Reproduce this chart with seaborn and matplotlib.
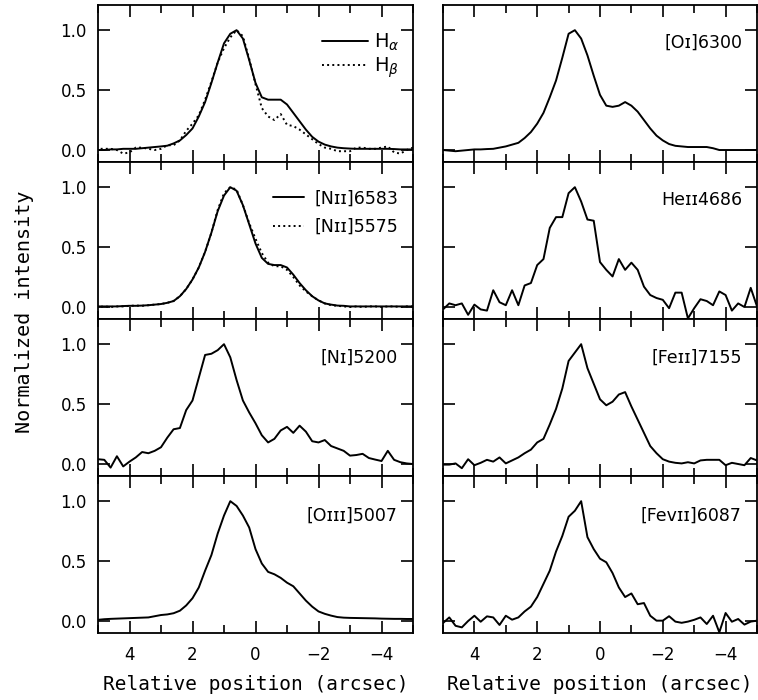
import numpy as np
import matplotlib.pyplot as plt
import seaborn as sns
from matplotlib.ticker import MultipleLocator, FixedLocator, FormatStrFormatter

# slit positions (arcsec), 0.2" sampling
pos = np.round(np.linspace(5, -5, 51), 1)

h_alpha = [0.00, 0.00, 0.005, 0.005, 0.01, 0.01, 0.01, 0.015, 0.02, 0.025, 0.03,
           0.036, 0.055, 0.08, 0.125, 0.18, 0.28, 0.40, 0.56, 0.73, 0.89,
           0.97, 1.00, 0.93, 0.75, 0.56, 0.44, 0.42, 0.42, 0.42, 0.38,
           0.31, 0.24, 0.17, 0.11, 0.07, 0.045, 0.03, 0.02, 0.015, 0.012,
           0.01, 0.01, 0.01, 0.01, 0.01, 0.01, 0.008, 0.005, 0.005, 0.005]
h_beta = [0.01, 0.01, 0.01, 0.00, -0.03, -0.02, 0.02, 0.02, 0.01, 0.00, 0.01,
          0.04, 0.04, 0.08, 0.16, 0.22, 0.29, 0.42, 0.57, 0.73, 0.85,
          0.94, 1.00, 0.95, 0.76, 0.55, 0.35, 0.28, 0.25, 0.30, 0.21,
          0.20, 0.17, 0.13, 0.09, 0.05, 0.02, 0.01, -0.01, -0.01, -0.01,
          0.02, 0.02, 0.01, 0.01, 0.02, 0.03, -0.02, -0.03, 0.00, 0.02]
nii_6583 = [0.005, 0.005, 0.005, 0.005, 0.008, 0.01, 0.01, 0.012, 0.015, 0.02, 0.025,
            0.035, 0.05, 0.09, 0.15, 0.23, 0.33, 0.46, 0.62, 0.80, 0.93,
            1.00, 0.97, 0.85, 0.69, 0.53, 0.41, 0.36, 0.35, 0.35, 0.33,
            0.27, 0.20, 0.14, 0.09, 0.055, 0.03, 0.02, 0.012, 0.01, 0.005,
            0.005, 0.005, 0.005, 0.005, 0.005, 0.005, 0.005, 0.005, 0.005, 0.005]
nii_5575 = [0.0, 0.005, 0.0, 0.005, 0.005, 0.01, 0.012, 0.01, 0.015, 0.02, 0.025,
            0.035, 0.05, 0.09, 0.15, 0.23, 0.33, 0.46, 0.62, 0.81, 0.95,
            1.00, 0.98, 0.85, 0.70, 0.57, 0.45, 0.37, 0.34, 0.34, 0.31,
            0.25, 0.18, 0.13, 0.09, 0.055, 0.03, 0.015, 0.01, 0.005, 0.0,
            0.005, 0.0, 0.005, 0.005, 0.0, 0.005, 0.005, 0.0, 0.005, 0.005]
ni_5200 = [0.04, 0.035, -0.03, 0.065, -0.02, 0.02, 0.055, 0.10, 0.09, 0.11, 0.14,
           0.22, 0.29, 0.30, 0.45, 0.53, 0.72, 0.91, 0.92, 0.95, 1.00,
           0.89, 0.70, 0.53, 0.43, 0.34, 0.24, 0.18, 0.21, 0.28, 0.31,
           0.26, 0.32, 0.27, 0.19, 0.18, 0.20, 0.15, 0.13, 0.11, 0.07,
           0.075, 0.085, 0.05, 0.037, 0.025, 0.11, 0.035, 0.015, 0.005, 0.0]
oiii_5007 = [0.01, 0.015, 0.018, 0.02, 0.022, 0.024, 0.026, 0.028, 0.03, 0.04, 0.05,
             0.055, 0.065, 0.086, 0.13, 0.19, 0.28, 0.42, 0.55, 0.73, 0.88,
             1.00, 0.96, 0.88, 0.78, 0.60, 0.48, 0.41, 0.39, 0.36, 0.32,
             0.29, 0.23, 0.17, 0.12, 0.08, 0.06, 0.045, 0.033, 0.028, 0.026,
             0.025, 0.024, 0.023, 0.022, 0.02, 0.019, 0.018, 0.018, 0.017, 0.017]
oi_6300 = [0.0, -0.005, -0.01, -0.005, 0.0, 0.005, 0.005, 0.008, 0.01, 0.02, 0.03,
           0.045, 0.06, 0.10, 0.15, 0.22, 0.31, 0.44, 0.58, 0.77, 0.97,
           1.00, 0.93, 0.79, 0.62, 0.46, 0.37, 0.36, 0.37, 0.40, 0.37,
           0.32, 0.25, 0.18, 0.12, 0.08, 0.05, 0.035, 0.03, 0.025, 0.025,
           0.025, 0.025, 0.015, 0.0, 0.0, 0.0, 0.0, 0.0, 0.0, 0.0]
heii_4686 = [-0.02, 0.03, 0.015, 0.03, -0.065, 0.02, -0.02, -0.03, 0.14, 0.04, 0.015,
             0.14, 0.015, 0.18, 0.20, 0.35, 0.40, 0.66, 0.75, 0.75, 0.95,
             1.00, 0.88, 0.73, 0.72, 0.375, 0.31, 0.255, 0.40, 0.31, 0.37,
             0.31, 0.17, 0.10, 0.075, 0.06, -0.01, 0.12, 0.12, -0.095, -0.01,
             0.065, 0.05, 0.015, 0.13, 0.10, -0.03, 0.03, 0.0, 0.16, 0.005]
feii_7155 = [-0.005, -0.005, 0.005, -0.035, 0.04, -0.01, 0.01, 0.035, 0.02, 0.055, 0.005,
             0.03, 0.055, 0.09, 0.12, 0.18, 0.21, 0.33, 0.46, 0.63, 0.86,
             0.93, 1.00, 0.80, 0.67, 0.54, 0.49, 0.52, 0.58, 0.60, 0.48,
             0.37, 0.26, 0.15, 0.09, 0.04, 0.02, 0.01, 0.005, 0.015, 0.005,
             0.03, 0.035, 0.035, 0.035, -0.01, 0.01, 0.0, -0.01, 0.05, 0.03]
fevii_6087 = [-0.017, 0.03, -0.04, -0.053, 0.0, 0.044, -0.006, 0.039, 0.03, -0.033, 0.044,
              0.011, 0.03, 0.08, 0.12, 0.20, 0.31, 0.42, 0.58, 0.71, 0.87,
              0.92, 1.00, 0.70, 0.60, 0.52, 0.49, 0.40, 0.28, 0.20, 0.23,
              0.14, 0.15, 0.044, 0.003, 0.003, 0.04, -0.005, -0.015, -0.005, 0.01,
              0.03, -0.025, 0.044, -0.094, 0.067, -0.006, 0.017, -0.03, -0.005, 0.003]

sns.set_theme(style='ticks')
plt.rcParams['font.family'] = ['DejaVu Sans', 'DejaVu Sans Mono']
plt.rcParams['axes.linewidth'] = 1.3
for key in ['text.color', 'axes.labelcolor', 'xtick.color', 'ytick.color', 'axes.edgecolor']:
    plt.rcParams[key] = 'black'

mono = ['DejaVu Sans Mono', 'DejaVu Sans']

fig = plt.figure(figsize=(7.58, 7.0), dpi=100)
W, H = 758, 700
col_left = [98, 443]
col_width = [315, 314]
row_h = 157

axes = {}
for r in range(4):
    for c in range(2):
        top = 5 + row_h * r
        ax = fig.add_axes([col_left[c] / W, 1 - (top + row_h) / H, col_width[c] / W, row_h / H])
        ax.set_xlim(5, -5)
        ax.set_ylim(-0.1, 1.21)
        ax.xaxis.set_major_locator(MultipleLocator(2))
        ax.xaxis.set_minor_locator(MultipleLocator(1))
        ax.yaxis.set_major_locator(FixedLocator([0.0, 0.5, 1.0]))
        ax.yaxis.set_major_formatter(FormatStrFormatter('%.1f'))
        ax.tick_params(which='both', direction='in', top=True, right=True,
                       width=1.2, labelsize=12)
        ax.tick_params(which='major', length=8.5)
        ax.tick_params(which='minor', length=5.5)
        ax.tick_params(axis='y', pad=8)
        ax.tick_params(axis='x', pad=9)
        if c == 1:
            ax.tick_params(axis='y', labelleft=False)
        if r < 3:
            ax.tick_params(axis='x', labelbottom=False)
        else:
            ax.set_xlabel('Relative position (arcsec)', fontsize=14, labelpad=8,
                          family=mono)
        axes[(r, c)] = ax

lw = 1.4

# row 1
ax = axes[(0, 0)]
sns.lineplot(x=pos, y=h_alpha, ax=ax, color='black', linewidth=lw, label=r'H$_\alpha$')
sns.lineplot(x=pos, y=h_beta, ax=ax, color='black', linewidth=lw, linestyle=':', label=r'H$_\beta$')
ax.legend(loc='upper right', bbox_to_anchor=(1.0, 0.91), frameon=False, fontsize=14,
          handlelength=2.4, labelspacing=0.1, borderaxespad=0.27, handletextpad=0.3)

ax = axes[(0, 1)]
sns.lineplot(x=pos, y=oi_6300, ax=ax, color='black', linewidth=lw)
ax.text(0.953, 0.757, '[Oɪ]6300', transform=ax.transAxes, ha='right', va='center', fontsize=12.5)

# row 2
ax = axes[(1, 0)]
sns.lineplot(x=pos, y=nii_6583, ax=ax, color='black', linewidth=lw, label='[Nɪɪ]6583')
sns.lineplot(x=pos, y=nii_5575, ax=ax, color='black', linewidth=lw, linestyle=':', label='[Nɪɪ]5575')
ax.legend(loc='upper right', bbox_to_anchor=(1.0, 0.92), frameon=False, fontsize=12.5,
          handlelength=1.8, labelspacing=0.6, borderaxespad=0.46, handletextpad=0.6)

ax = axes[(1, 1)]
sns.lineplot(x=pos, y=heii_4686, ax=ax, color='black', linewidth=lw)
ax.text(0.953, 0.757, 'Heɪɪ4686', transform=ax.transAxes, ha='right', va='center', fontsize=12.5)

# row 3
ax = axes[(2, 0)]
sns.lineplot(x=pos, y=ni_5200, ax=ax, color='black', linewidth=lw)
ax.text(0.95, 0.752, '[Nɪ]5200', transform=ax.transAxes, ha='right', va='center', fontsize=12.5)

ax = axes[(2, 1)]
sns.lineplot(x=pos, y=feii_7155, ax=ax, color='black', linewidth=lw)
ax.text(0.953, 0.752, '[Feɪɪ]7155', transform=ax.transAxes, ha='right', va='center', fontsize=12.5)

# row 4
ax = axes[(3, 0)]
sns.lineplot(x=pos, y=oiii_5007, ax=ax, color='black', linewidth=lw)
ax.text(0.95, 0.75, '[Oɪɪɪ]5007', transform=ax.transAxes, ha='right', va='center', fontsize=12.5)

ax = axes[(3, 1)]
sns.lineplot(x=pos, y=fevii_6087, ax=ax, color='black', linewidth=lw)
ax.text(0.95, 0.75, '[Feᴠɪɪ]6087', transform=ax.transAxes, ha='right', va='center', fontsize=12.5)

for ax in axes.values():
    ax.set_ylabel('')

fig.text(25 / W, 1 - 312 / H, 'Normalized intensity', rotation=90,
         ha='center', va='center', fontsize=14.5, family=mono)

fig.savefig('out.png', dpi=100)
